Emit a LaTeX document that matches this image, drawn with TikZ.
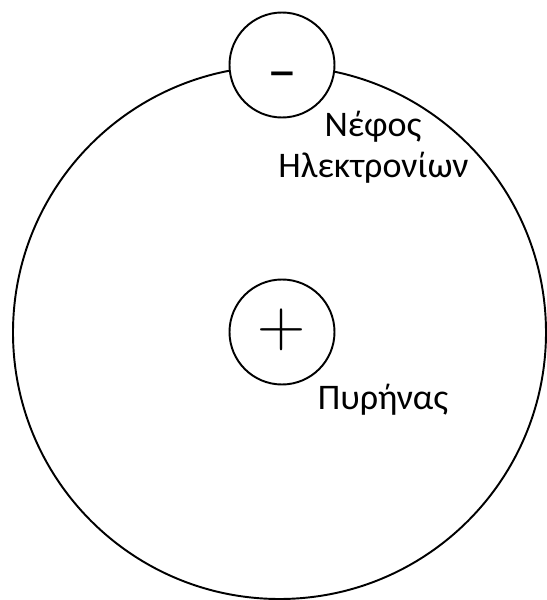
\documentclass[tikz,border=0pt]{standalone}
\usepackage{fontspec}
\newfontfamily\labelfont{Carlito}
\usetikzlibrary{positioning}

\begin{document}
\begin{tikzpicture}[
    orbit/.style={draw, circle, line width=1.1pt, inner sep=0pt},
    particle/.style={draw, circle, fill=white, line width=1.1pt, inner sep=0pt, minimum size=2.1cm},
    caption/.style={font=\labelfont\fontsize{20.5}{24}\selectfont, anchor=base, inner sep=0pt}
]
    \useasboundingbox (0,0) rectangle (10.94,12);

    \node[orbit, minimum size=10.66cm] (cloud) at (5.59,5.35) {};
    \node[particle] (electron) at (5.64,10.70) {};
    \node[particle] (nucleus) at (5.64,5.36) {};

    % charges
    \node[inner sep=0pt, font=\labelfont\fontsize{34}{40}\selectfont] (minus) at (5.64,10.38) {–};
    \node[inner sep=0pt, font=\fontsize{38}{44}\selectfont] (plus) at (5.64,5.40) {+};

    \node[caption] (nephos) at (7.46,9.26) {Νέφος};
    \node[caption] (electrons) at (7.47,8.44) {Ηλεκτρονίων};
    \node[caption] (pyrinas) at (7.66,3.80) {Πυρήνας};
\end{tikzpicture}
\end{document}
